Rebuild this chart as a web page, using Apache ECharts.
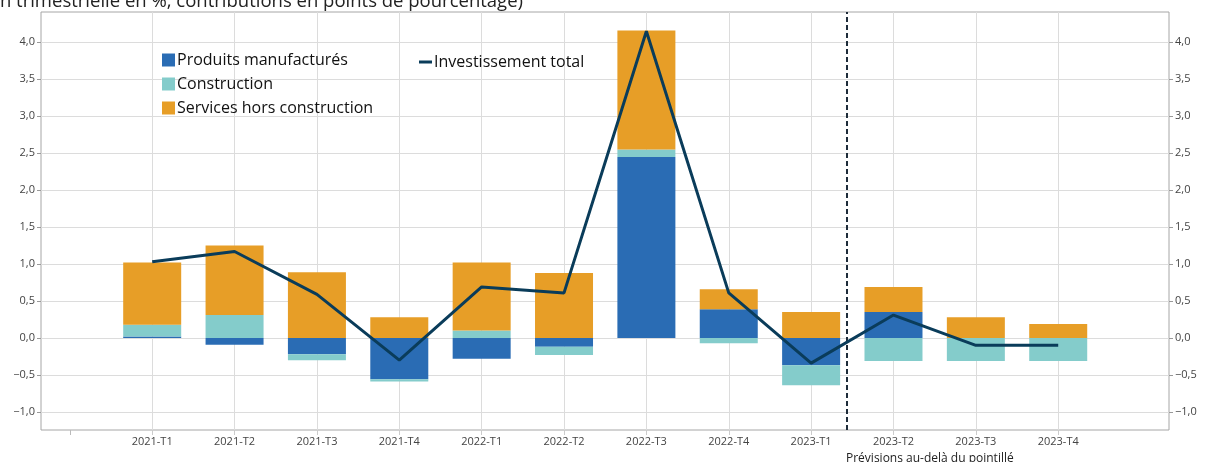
<!DOCTYPE html>
<html>
<head>
<meta charset="utf-8">
<script src="https://cdn.jsdelivr.net/npm/echarts@6/dist/echarts.min.js"></script>
<style>
html,body{margin:0;padding:0;background:#fff;}
#chart{width:1207px;height:462px;}
</style>
</head>
<body>
<div id="chart"></div>
<script>
const categories = ['2021-T1','2021-T2','2021-T3','2021-T4','2022-T1','2022-T2','2022-T3','2022-T4','2023-T1','2023-T2','2023-T3','2023-T4'];
const manufactures = [0.02, -0.09, -0.22, -0.56, -0.28, -0.12, 2.45, 0.39, -0.37, 0.35, 0, 0];
const construction = [0.16, 0.31, -0.08, -0.03, 0.10, -0.11, 0.10, -0.07, -0.27, -0.31, -0.31, -0.31];
const services = [0.84, 0.94, 0.89, 0.28, 0.92, 0.88, 1.61, 0.27, 0.35, 0.34, 0.28, 0.19];
const total = [1.03, 1.17, 0.59, -0.30, 0.69, 0.61, 4.15, 0.61, -0.34, 0.31, -0.10, -0.10];
const yTicks = [-1, -0.5, 0, 0.5, 1, 1.5, 2, 2.5, 3, 3.5, 4];
const forecastStart = 8.43;
const titleText = '(variation trimestrielle en %, contributions en points de pourcentage)';
const noteText = 'Prévisions au-delà du pointillé';

const FONT = '"Open Sans", "DejaVu Sans", sans-serif';
const fmtY = v => (v < 0 ? '\u2212' : '') + Math.abs(v).toFixed(1).replace('.', ',');
// value first, category index second (encode maps them to y / x)
const pairs = arr => arr.map((v, i) => [v, i]);
const xIdx = categories.map((c, i) => i);
const enc = {x: 1, y: 0};

const chart = echarts.init(document.getElementById('chart'), null, {renderer: 'canvas'});
const yAxisBase = {
  type: 'value', min: -1.245, max: 4.41,
  axisLine: {show: false, onZero: false},
  axisTick: {show: true, length: 4, lineStyle: {color: '#999'}, customValues: yTicks},
  axisLabel: {customValues: yTicks, formatter: fmtY, color: '#444', fontSize: 11, fontFamily: FONT, margin: 6}
};
chart.setOption({
  animation: false,
  grid: {left: 41, right: 38, top: 12, bottom: 32, show: true, borderColor: '#a6a6a6', borderWidth: 1, backgroundColor: 'transparent'},
  legend: [
    {
      orient: 'vertical', left: 157, top: 47, itemWidth: 13, itemHeight: 13, itemGap: 8,
      data: ['Produits manufacturés', 'Construction', 'Services hors construction'],
      textStyle: {fontFamily: FONT, fontSize: 16, color: '#111', padding: [0, 0, 0, -3]},
      icon: 'rect'
    },
    {
      orient: 'horizontal', left: 414, top: 49, itemWidth: 13, itemHeight: 3,
      data: [{name: 'Investissement total', icon: 'rect'}],
      textStyle: {fontFamily: FONT, fontSize: 16, color: '#111', padding: [0, 0, 0, -3]}
    }
  ],
  xAxis: [
    {
      type: 'value', min: -1.35, max: 12.345,
      axisLine: {show: false, onZero: false},
      axisTick: {show: true, length: 5, lineStyle: {color: '#ccc'}, customValues: xIdx},
      axisLabel: {customValues: xIdx, formatter: v => categories[Math.round(v)], color: '#444', fontSize: 11, fontFamily: FONT, margin: 6},
      splitLine: {show: true, lineStyle: {color: '#dcdcdc', width: 1}}
    },
    {
      type: 'value', min: -1.35, max: 12.345, position: 'bottom', offset: 0,
      axisLine: {show: false, onZero: false},
      axisTick: {show: true, length: 5, lineStyle: {color: '#bbb'}, customValues: [-1]},
      axisLabel: {show: false},
      splitLine: {show: false}
    }
  ],
  yAxis: [
    Object.assign({}, yAxisBase, {position: 'left', splitLine: {show: true, lineStyle: {color: '#dcdcdc', width: 1}}}),
    Object.assign({}, yAxisBase, {position: 'right', splitLine: {show: false}})
  ],
  series: [
    {name: 'Produits manufacturés', type: 'bar', stack: 'a', barWidth: 58, encode: enc, data: pairs(manufactures), itemStyle: {color: '#2a6cb4'}},
    {name: 'Construction', type: 'bar', stack: 'a', barWidth: 58, encode: enc, data: pairs(construction), itemStyle: {color: '#84cccb'}},
    {name: 'Services hors construction', type: 'bar', stack: 'a', barWidth: 58, encode: enc, data: pairs(services), itemStyle: {color: '#e79e27'}},
    {
      name: 'Investissement total', type: 'line', encode: enc, data: pairs(total), symbol: 'none',
      lineStyle: {color: '#0a3c5a', width: 3}, itemStyle: {color: '#0a3c5a'}, z: 5,
      markLine: {
        silent: true, symbol: 'none', label: {show: false},
        lineStyle: {color: '#1e2c3a', width: 2, type: [5, 3]},
        data: [{xAxis: forecastStart}]
      }
    }
  ],
  graphic: [
    {type: 'text', right: 1207 - 523, top: -8, style: {text: titleText, font: '18.5px ' + FONT, fill: '#222'}},
    {type: 'text', left: 846, top: 453, style: {text: noteText, font: '12px ' + FONT, fill: '#222'}}
  ]
});
</script>
</body>
</html>
